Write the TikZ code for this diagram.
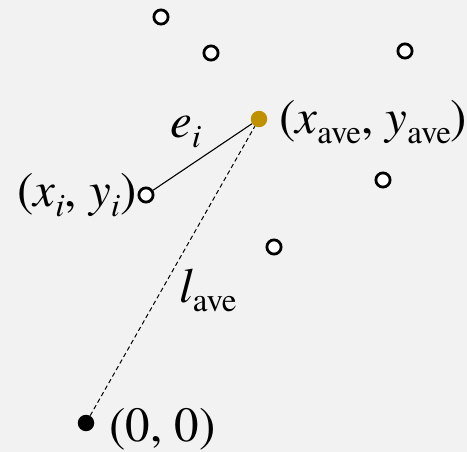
\documentclass[tikz,border=0pt]{standalone}
\usepackage{fontspec}
\newfontfamily\timesfam{texgyretermes}[Extension=.otf,UprightFont=*-regular,ItalicFont=*-italic,BoldFont=*-bold]
\definecolor{bgc}{HTML}{F2F2F2}
\definecolor{goldc}{HTML}{BF9000}
\newcommand\mysub[1]{\raisebox{-0.2em}{\fontsize{33}{33}\selectfont #1}}
\begin{document}
\begin{tikzpicture}[x=1pt,y=-1pt,
  datapt/.style={circle,draw=black,fill=white,line width=2.8pt,minimum size=14.2pt,inner sep=0pt},
  avgpt/.style={circle,fill=goldc,minimum size=16.5pt,inner sep=0pt},
  origpt/.style={circle,fill=black,minimum size=16.5pt,inner sep=0pt},
  lbl/.style={inner sep=0pt,anchor=base west,font=\timesfam\fontsize{49}{52}\selectfont}]
\fill[bgc] (0,0) rectangle (467,452);
\useasboundingbox (0,0) rectangle (467,452);
\node[datapt] (p1) at (161,17) {};
\node[datapt] (p2) at (211,53) {};
\node[datapt] (p3) at (405,51) {};
\node[datapt] (p4) at (383,180) {};
\node[datapt] (p5) at (274,247) {};
\node[datapt] (pi) at (146,195) {};
\node[avgpt] (avg) at (259,119) {};
\node[origpt] (o) at (86,423) {};
\draw[line width=1.1pt] (pi) -- (avg);
\draw[line width=1pt,dash pattern=on 4.5pt off 3pt] (o) -- (avg);
\node[lbl] (lavg) at (279,134) {(\textit{x}\mysub{ave}, \textit{y}\mysub{ave})};
\node[lbl] (lpi) at (17,207) {(\textit{x}\mysub{\textit{i}}, \textit{y}\mysub{\textit{i}})};
\node[lbl] (lo) at (109,442) {(0, 0)};
\node[lbl] (le) at (170,138) {\textit{e}\mysub{\textit{i}}};
\node[lbl] (ll) at (179,302) {\textit{l}\mysub{ave}};
\end{tikzpicture}
\end{document}
